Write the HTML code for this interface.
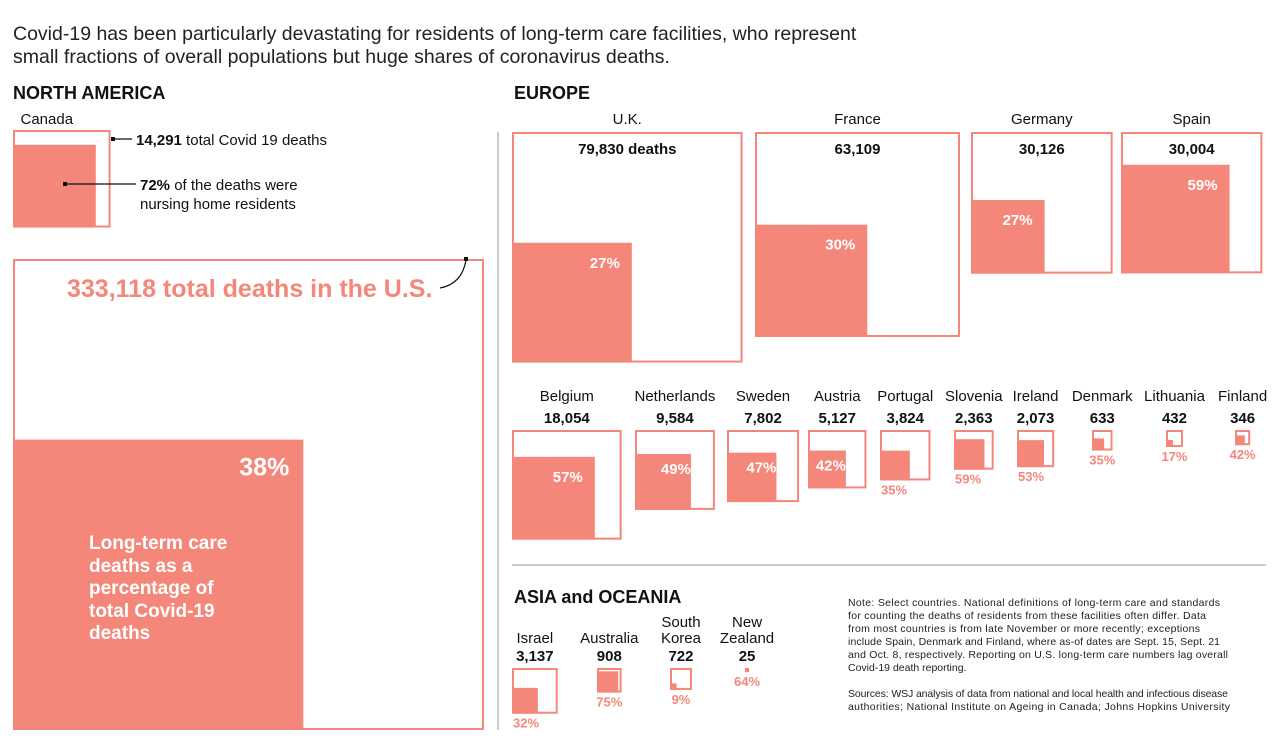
<!DOCTYPE html>
<html><head><meta charset="utf-8"><style>
body{margin:0;background:#fff;}
svg{display:block;font-family:"Liberation Sans",sans-serif;}
.cn{font-size:15px;fill:#111;text-anchor:middle}
.num{font-size:15px;font-weight:bold;fill:#111;text-anchor:middle}
.note{font-family:"Liberation Sans Narrow","Liberation Sans",sans-serif;font-size:10.5px;fill:#222}
</style></head><body>
<svg id="chart" width="1284" height="748" viewBox="0 0 1284 748" xmlns="http://www.w3.org/2000/svg">
<text x="13" y="40" font-size="19.5" fill="#222">Covid-19 has been particularly devastating for residents of long-term care facilities, who represent</text>
<text x="13" y="63" font-size="19.5" fill="#222">small fractions of overall populations but huge shares of coronavirus deaths.</text>
<text x="13" y="99" font-size="18" font-weight="bold" fill="#111">NORTH AMERICA</text>
<text x="514" y="99" font-size="18" font-weight="bold" fill="#111">EUROPE</text>
<text x="514" y="603" font-size="18" font-weight="bold" fill="#111">ASIA and OCEANIA</text>
<line x1="498" y1="132" x2="498" y2="730" stroke="#bbb" stroke-width="1.5"/>
<line x1="512" y1="565" x2="1266" y2="565" stroke="#bbb" stroke-width="1.5"/>
<g id="marks"></g>
<text x="136" y="145" font-size="15" fill="#111"><tspan font-weight="bold">14,291</tspan> total Covid 19 deaths</text>
<text x="140" y="190" font-size="15" fill="#111"><tspan font-weight="bold">72%</tspan> of the deaths were</text>
<text x="140" y="209" font-size="15" fill="#111">nursing home residents</text>
<line x1="113" y1="139" x2="132" y2="139" stroke="#111" stroke-width="1.2"/>
<rect x="111" y="137" width="4" height="4" fill="#111"/>
<line x1="66" y1="184" x2="136" y2="184" stroke="#111" stroke-width="1.2"/>
<rect x="63" y="182" width="4" height="4" fill="#111"/>
<text x="67" y="297" font-size="25" font-weight="bold" fill="#f4877a">333,118 total deaths in the U.S.</text>
<path d="M440,288 Q462,284 466,260" fill="none" stroke="#111" stroke-width="1.2"/>
<rect x="464" y="257" width="4" height="4" fill="#111"/>
<g font-size="19" font-weight="bold" fill="#fff">
<text x="89" y="549">Long-term care</text><text x="89" y="572">deaths as a</text><text x="89" y="594">percentage of</text><text x="89" y="617">total Covid-19</text><text x="89" y="639">deaths</text></g>
<g class="note">
<text x="848" y="606" textLength="372">Note: Select countries. National definitions of long-term care and standards</text>
<text x="848" y="619" textLength="358">for counting the deaths of residents from these facilities often differ. Data</text>
<text x="848" y="632" textLength="352">from most countries is from late November or more recently; exceptions</text>
<text x="848" y="645" textLength="372">include Spain, Denmark and Finland, where as-of dates are Sept. 15, Sept. 21</text>
<text x="848" y="658" textLength="380">and Oct. 8, respectively. Reporting on U.S. long-term care numbers lag overall</text>
<text x="848" y="671">Covid-19 death reporting.</text>
<text x="848" y="697" textLength="380">Sources: WSJ analysis of data from national and local health and infectious disease</text>
<text x="848" y="710" textLength="382">authorities; National Institute on Ageing in Canada; Johns Hopkins University</text>
</g>
</svg>
<script>
const countries = ["U.S.","Canada","U.K.","France","Germany","Spain","Belgium","Netherlands","Sweden","Austria","Portugal","Slovenia","Ireland","Denmark","Lithuania","Finland","Israel","Australia","South Korea","New Zealand"];
const deaths = [333118,14291,79830,63109,30126,30004,18054,9584,7802,5127,3824,2363,2073,633,432,346,3137,908,722,25];
const shares = [38,72,27,30,27,59,57,49,47,42,35,59,53,35,17,42,32,75,9,64];
const numLabels = ["","","79,830 deaths","63,109","30,126","30,004","18,054","9,584","7,802","5,127","3,824","2,363","2,073","633","432","346","3,137","908","722","25"];
// layout anchors (left x, top y) per country, not data
const anchorX = [13,13,512,755,971,1121,512,635,727,808,880,954,1017,1092,1166,1235,512,597,670,745];
const anchorY = [259,130,132,132,132,132,430,430,430,430,430,430,430,430,430,430,668,668,668,668];
const K = 0.816;
const side = d => K*Math.sqrt(d);
const inner = (s,p) => s*Math.sqrt(p/100);
const C = "#f4877a";
const g = document.getElementById('marks');
const NS = "http://www.w3.org/2000/svg";
function mk(tag, attrs){const e=document.createElementNS(NS,tag);for(const k in attrs)e.setAttribute(k,attrs[k]);g.appendChild(e);return e;}
countries.forEach((c,i)=>{
  const s = side(deaths[i]), x = anchorX[i], y = anchorY[i];
  const is = inner(s, shares[i]);
  const slug = c.toLowerCase().replace(/[^a-z]+/g,'-');
  const box = mk('rect',{x:x+1,y:y+1,width:Math.max(s-2,1),height:Math.max(s-2,1),fill:'#fff',stroke:C,'stroke-width':2});
  
  
  const inr = mk('rect',{x:x,y:y+s-is,width:is,height:is,fill:C});
  
  
  if(i>=2){
    const nameY = i<6 ? y-8 : (i<16 ? y-29 : y-25);
    const name = mk('text',{x:x+s/2,y:nameY,class:'cn'});
    if(c==="South Korea"||c==="New Zealand"){
      const parts=c.split(' ');
      name.innerHTML='<tspan x="'+(x+s/2)+'" dy="-16">'+parts[0]+'</tspan><tspan x="'+(x+s/2)+'" dy="16">'+parts[1]+'</tspan>';
    } else name.textContent = c;
    
    
    const num = mk('text',{x:x+s/2,y:i<6?y+22:y-7,class:'num'});
    num.textContent = numLabels[i];
    
    
  } else if(i===1){
    const name = mk('text',{x:x+s/2-15,y:y-6,class:'cn'});
    name.textContent = c;
    
    
  }
  if(i>=2){
    let pt;
    if(is>=36){
      const pad = is>=60 ? 12 : 0;
      pt = mk('text',{x:x+is-pad,y:y+s-is+(is>=60?25:20),'font-size':15,'font-weight':'bold',fill:'#fff','text-anchor':'end'});
    } else {
      pt = mk('text',{x:x+s/2+(s>30?-s/2+14:0),y:y+s+14,'font-size':13,'font-weight':'bold',fill:C,'text-anchor':'middle'});
    }
    pt.textContent = shares[i]+'%';
    
    
  } else if(i===0){
    const pt = mk('text',{x:x+is-14,y:y+s-is+36,'font-size':25,'font-weight':'bold',fill:'#fff','text-anchor':'end'});
    pt.textContent = shares[i]+'%';
    
    
  }
});
</script>
</body></html>
